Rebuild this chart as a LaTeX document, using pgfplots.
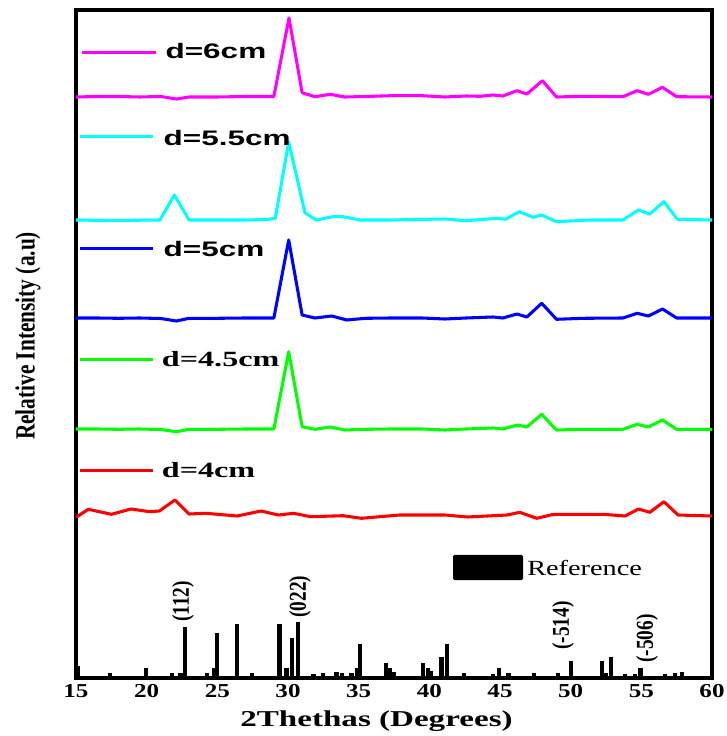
\documentclass[border=0pt]{standalone}
\usepackage{graphicx}
\usepackage{fontspec}
\setmainfont{Liberation Serif}
\newfontfamily\sansf{Liberation Sans}
\usepackage{pgfplots}
\pgfplotsset{compat=1.18}
\definecolor{cmag}{RGB}{255,0,255}
\definecolor{ccyan}{RGB}{0,255,255}
\definecolor{cblue}{RGB}{0,0,255}
\definecolor{cgreen}{RGB}{0,255,0}
\definecolor{cred}{RGB}{255,0,0}
\begin{document}
\begin{tikzpicture}
\begin{axis}[
  width=477pt, height=501pt, scale only axis,
  xmin=15, xmax=60, ymin=0, ymax=668,
  xtick={15,20,25,30,35,40,45,50,55,60},
  xticklabels={\scalebox{1.27}[1]{15},\scalebox{1.27}[1]{20},\scalebox{1.27}[1]{25},\scalebox{1.27}[1]{30},\scalebox{1.27}[1]{35},\scalebox{1.27}[1]{40},\scalebox{1.27}[1]{45},\scalebox{1.27}[1]{50},\scalebox{1.27}[1]{55},\scalebox{1.27}[1]{60}},
  ytick=\empty,
  major tick length=0pt,
  axis line style={line width=2.6pt},
  every outer x axis line/.append style={line width=2.6pt},
  every outer y axis line/.append style={line width=2.6pt},
  clip mode=individual,
  xticklabel style={font=\fontsize{14.8}{16}\selectfont\bfseries, yshift=-1.5pt},
  xlabel={\scalebox{1.46}[1]{2Thethas (Degrees)}},
  xlabel style={font=\fontsize{17}{20}\selectfont\bfseries, at={(axis description cs:0.4725,-0.0729)}, anchor=base},
  ylabel={\scalebox{1}[1.3]{Relative Intensity (a.u)}},
  ylabel style={font=\fontsize{16}{18}\selectfont\bfseries, at={(axis description cs:-0.0755,0.512)}, anchor=center},
  every axis plot/.append style={line join=round},
]
% Reference pattern
\addplot[ycomb, black, line width=3.2pt] coordinates {
(15.1,12) (17.4,5.3) (19.95,9.7) (21.77,4.7) (22.4,5.3) (22.7,50.7) (24.25,4.7) (24.77,9.7) (25.0,45.3) (26.37,53.7)
(27.43,5.3) (29.39,53.7) (29.9,9.7) (30.26,39.7) (30.73,56.3) (31.8,4) (32.5,4.7) (33.44,6.3) (33.8,4.7) (34.5,4.7)
(34.86,9.7) (35.1,34) (36.93,14.7) (37.2,10.3) (37.5,5.7) (39.53,14.7) (39.93,9.7) (40.1,7.3) (40.87,20.7) (41.27,34)
(42.45,4.7) (44.5,3.7) (44.95,9.7) (45.6,4.7) (47.4,4.7) (49.1,5.3) (50.0,17.3) (52.2,17.3) (52.5,5.3) (52.83,20.7)
(53.85,4) (54.55,4) (54.95,9.7) (56.7,4) (57.4,4.7) (57.86,6.3)
};
% d=4cm
\addplot[cred, line width=2.3pt] coordinates {
(15.0,160.7) (15.87,168.7) (17.5,163.7) (18.9,169) (20.2,166.3) (20.9,167) (22.0,178) (23.0,164) (24.2,164.7) (26.4,162)
(28.1,167) (29.3,163) (30.4,164.7) (31.6,161.3) (33.9,162.3) (35.2,159.7) (37.9,163) (41.1,163) (42.7,161) (45.5,163)
(46.4,165.7) (47.6,159.7) (48.8,163.7) (52.3,163.7) (53.85,162) (54.8,169) (55.6,165.7) (56.6,176.3) (57.6,163) (60.0,162)
};
% d=4.5cm
\addplot[cgreen, line width=2.3pt] coordinates {
(15.0,249) (16.5,249) (18.0,248.7) (19.5,249) (21.0,248.5) (22.1,246.3) (23.0,248.7) (25.0,248.7) (27.0,249) (29.0,249)
(30.05,326.3) (31.0,251.3) (31.9,248.7) (33.0,251) (34.0,248) (35.5,248.7) (37.3,249) (39.5,249) (41.1,248) (42.6,249)
(44.5,250) (45.2,249) (46.25,253) (46.9,251) (47.95,263.7) (49.0,248) (50.9,248.7) (53.7,248.7) (54.7,253.7) (55.5,251)
(56.5,258) (57.5,248.7) (60.0,248.7)
};
% d=5cm
\addplot[cblue, line width=2.3pt] coordinates {
(15.0,360) (16.5,360) (18.0,359.7) (19.5,360) (21.0,359.5) (22.1,357) (23.0,359.7) (25.0,359.7) (27.0,360) (29.0,360)
(30.05,438) (31.0,363) (31.9,360) (33.1,362) (34.15,358) (35.5,359.7) (37.3,360) (39.5,360) (41.1,359) (42.6,360)
(44.5,361) (45.2,360) (46.2,364) (46.9,361) (47.95,374.7) (49.0,358.7) (50.9,359.7) (53.7,360) (54.7,364.7) (55.5,362)
(56.5,369) (57.5,360) (60.0,360)
};
% d=5.5cm
\addplot[ccyan, line width=2.3pt] coordinates {
(15.0,458) (17.0,457.5) (19.0,457.7) (20.94,458) (21.96,483) (23.0,458) (25.0,458) (27.0,458) (28.5,458.5) (29.1,459.7)
(30.05,536) (31.2,465.3) (32.0,458) (33.2,461.3) (33.9,461.3) (35.1,458) (37.2,458) (39.0,458.5) (41.1,459) (42.6,457.3)
(44.8,459.7) (45.4,458.7) (46.35,466.3) (47.36,460.7) (47.95,463) (49.0,456.3) (51.4,458) (53.7,458) (54.8,468) (55.6,464)
(56.6,476.3) (57.55,458.7) (60.0,458)
};
% d=6cm
\addplot[cmag, line width=2.3pt] coordinates {
(15.0,581) (16.5,581.5) (18.0,581.5) (19.5,581) (21.0,581.5) (22.1,579) (23.0,581) (25.0,581) (27.0,581.5) (29.0,581.5)
(30.07,660) (31.0,585.3) (31.9,581.3) (33.0,583.7) (34.0,581) (35.5,581.5) (37.3,582.3) (39.5,582.3) (41.1,581) (42.6,582)
(43.6,581.7) (44.5,583) (45.2,582) (46.2,587.3) (46.9,584) (48.0,597.3) (49.0,581) (50.9,581.7) (53.7,581.3) (54.7,587.3)
(55.5,583.7) (56.5,590.7) (57.5,581.3) (60.0,581)
};
% legend-like labels
\draw[cmag, line width=2.3pt] (axis cs:15.42,625.7) -- (axis cs:20.66,625.7);
\node[anchor=base west, inner sep=0pt, font=\sansf\bfseries\fontsize{15.75}{18}\selectfont] at (axis cs:21.32,619.7) {\scalebox{1.5}[1]{d=6cm}};
\draw[ccyan, line width=2.3pt] (axis cs:15.28,541.3) -- (axis cs:20.47,541.3);
\node[anchor=base west, inner sep=0pt, font=\sansf\bfseries\fontsize{15.75}{18}\selectfont] at (axis cs:21.18,532) {\scalebox{1.5}[1]{d=5.5cm}};
\draw[cblue, line width=2.3pt] (axis cs:15.28,429.7) -- (axis cs:20.47,429.7);
\node[anchor=base west, inner sep=0pt, font=\sansf\bfseries\fontsize{15.75}{18}\selectfont] at (axis cs:21.18,421.3) {\scalebox{1.5}[1]{d=5cm}};
\draw[cgreen, line width=2.3pt] (axis cs:15.28,318.7) -- (axis cs:20.47,318.7);
\node[anchor=base west, inner sep=0pt, font=\bfseries\fontsize{16.3}{18}\selectfont] at (axis cs:21.06,311.3) {\scalebox{1.48}[1]{d=4.5cm}};
\draw[cred, line width=2.3pt] (axis cs:15.28,207.3) -- (axis cs:20.47,207.3);
\node[anchor=base west, inner sep=0pt, font=\bfseries\fontsize{16.3}{18}\selectfont] at (axis cs:21.06,200.7) {\scalebox{1.48}[1]{d=4cm}};
\fill[black, rounded corners=1pt] (axis cs:41.68,98) rectangle (axis cs:46.63,123);
\node[anchor=base west, inner sep=0pt, font=\fontsize{16.2}{18}\selectfont] at (axis cs:46.91,103) {\scalebox{1.31}[1]{Reference}};
% peak indices
\node[rotate=90, anchor=west, inner sep=0pt, font=\fontsize{14.5}{16}\selectfont\bfseries] at (axis cs:22.57,56) {\scalebox{1}[1.25]{(112)}};
\node[rotate=90, anchor=west, inner sep=0pt, font=\fontsize{14.5}{16}\selectfont\bfseries] at (axis cs:30.85,60) {\scalebox{1}[1.25]{(022)}};
\node[rotate=90, anchor=west, inner sep=0pt, font=\fontsize{14.5}{16}\selectfont\bfseries] at (axis cs:49.46,28) {\scalebox{1}[1.25]{(-514)}};
\node[rotate=90, anchor=west, inner sep=0pt, font=\fontsize{14.5}{16}\selectfont\bfseries] at (axis cs:55.4,15) {\scalebox{1}[1.25]{(-506)}};
\end{axis}
\pgfresetboundingbox
\path (-57pt,-43.5pt) rectangle (488.25pt,508.5pt);
\end{tikzpicture}
\end{document}
